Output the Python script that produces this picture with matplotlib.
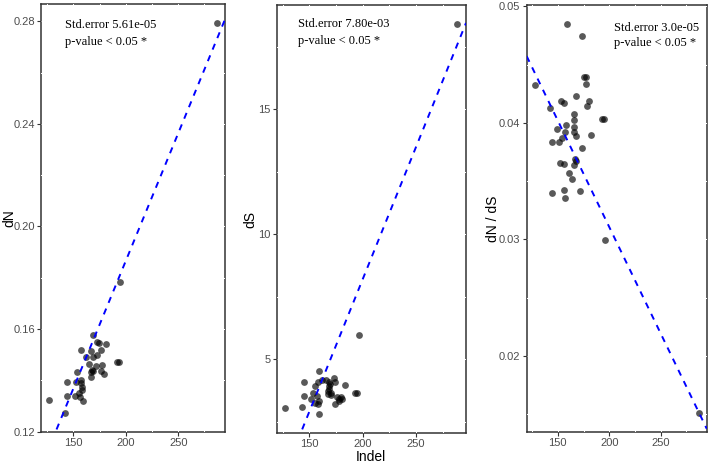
import matplotlib
matplotlib.use("Agg")
import matplotlib.pyplot as plt
import numpy as np
from matplotlib.ticker import MultipleLocator, FormatStrFormatter

plt.rcParams["font.family"] = ["Liberation Sans", "DejaVu Sans"]

# Dane: Indel vs dN, dS, dN/dS
indel_dn = [127.1, 142.4, 144.0, 144.0, 151.3, 153.8, 152.9, 155.1, 156.4, 157.0,
            157.6, 158.3, 158.3, 158.9, 157.6, 161.8, 164.6, 166.6, 168.8, 168.8,
            167.8, 167.2, 167.2, 169.1, 171.3, 172.6, 172.9, 174.8, 176.8, 177.7,
            176.8, 179.6, 181.5, 191.4, 193.6, 194.6, 286.6]
dn = [0.1321, 0.1274, 0.1392, 0.1340, 0.1340, 0.1431, 0.1392, 0.1349, 0.1334, 0.1401,
      0.1388, 0.1373, 0.1362, 0.1318, 0.1517, 0.1490, 0.1464, 0.1514, 0.1578, 0.1492,
      0.1440, 0.1432, 0.1414, 0.1438, 0.1457, 0.1499, 0.1549, 0.1544, 0.1519, 0.1458,
      0.1438, 0.1426, 0.1542, 0.1470, 0.1473, 0.1784, 0.2792]

indel_ds = [127.6, 142.9, 144.7, 144.7, 151.9, 153.7, 155.0, 155.3, 157.5, 158.1,
            159.0, 159.0, 159.6, 158.4, 162.4, 165.8, 167.4, 168.0, 168.6, 169.6,
            169.0, 170.2, 170.2, 169.0, 173.0, 174.5, 174.2, 176.4, 178.3, 179.5,
            181.1, 178.3, 183.2, 193.2, 195.0, 196.6, 288.9]
ds = [3.07, 3.09, 4.09, 3.52, 3.40, 3.64, 3.92, 3.25, 3.53, 4.11,
      4.52, 2.83, 3.33, 3.23, 4.17, 4.17, 3.60, 3.73, 3.93, 4.00,
      3.80, 3.67, 3.57, 4.09, 4.27, 4.11, 3.20, 3.51, 3.43, 3.49,
      3.40, 3.33, 3.97, 3.67, 3.67, 5.97, 18.40]

indel_ratio = [158.7, 173.9, 127.7, 175.5, 177.7, 177.7, 167.7, 152.9, 155.8, 180.6,
               178.7, 142.3, 165.7, 165.7, 157.7, 149.3, 165.7, 165.4, 156.5, 167.4,
               153.9, 151.6, 144.5, 182.6, 193.2, 195.2, 173.9, 166.5, 167.4, 166.1,
               152.5, 155.8, 160.6, 163.5, 144.5, 155.8, 156.7, 171.1, 195.8, 286.8]
ratio = [0.04845, 0.04744, 0.04322, 0.04397, 0.04391, 0.04333, 0.04230, 0.04187, 0.04167, 0.04190,
         0.04147, 0.04129, 0.04072, 0.04023, 0.03983, 0.03948, 0.03968, 0.03922, 0.03922, 0.03885,
         0.03874, 0.03839, 0.03836, 0.03897, 0.04029, 0.04034, 0.03787, 0.03687, 0.03670, 0.03641,
         0.03655, 0.03649, 0.03572, 0.03517, 0.03402, 0.03420, 0.03356, 0.03411, 0.02997, 0.01513]

# Linie regresji (nachylenie, wyraz wolny) i opisy
fits = [(0.000996, -0.0126), (0.1059, -12.99), (-0.0001827, 0.0676)]
std_errors = ["Std.error 5.61e-05", "Std.error 7.80e-03", "Std.error 3.0e-05"]
y_labels = ["dN", "dS", "dN / dS"]
y_ticks = [[0.12, 0.16, 0.20, 0.24, 0.28], [5, 10, 15], [0.02, 0.03, 0.04, 0.05]]
y_minor = [0.02, 2.5, 0.005]
y_fmt = ["%.2f", "%d", "%.2f"]

W, H = 708, 463
fig = plt.figure(figsize=(W / 100, H / 100), dpi=100)

# pozycje paneli w pikselach: lewo, prawo, góra, dół
boxes = [(41, 225, 4, 432), (276.7, 466, 5, 433), (526.7, 706.7, 5, 432)]
text_pos = [(0.130, 0.951, 0.911), (0.114, 0.955, 0.917), (0.485, 0.946, 0.912)]
ylabel_x = [-0.133, -0.102, -0.151]

data = [(indel_dn, dn), (indel_ds, ds), (indel_ratio, ratio)]

for i, (x, y) in enumerate(data):
    l, r, t, b = boxes[i]
    ax = fig.add_axes([l / W, (H - b) / H, (r - l) / W, (b - t) / H])
    ax.scatter(x, y, s=24, color="black", alpha=0.65, linewidths=0, zorder=3)
    ax.margins(0.05)
    ax.autoscale_view()
    xlim = ax.get_xlim()
    ylim = ax.get_ylim()
    xs = np.array(xlim)
    k, c = fits[i]
    ax.plot(xs, k * xs + c, color="blue", lw=1.4, ls=(0, (3.2, 3.2)), zorder=4)
    ax.set_xlim(xlim)
    ax.set_ylim(ylim)

    ax.set_xticks([150, 200, 250])
    ax.xaxis.set_minor_locator(MultipleLocator(25))
    ax.set_yticks(y_ticks[i])
    ax.yaxis.set_minor_locator(MultipleLocator(y_minor[i]))
    ax.yaxis.set_major_formatter(FormatStrFormatter(y_fmt[i]))
    ax.tick_params(which="major", length=3, width=0.8, color="#333333",
                   labelsize=8, labelcolor="#4d4d4d", pad=1.5)
    ax.tick_params(which="minor", length=0)
    ax.grid(True, which="both", color="white", lw=0.7)
    ax.set_axisbelow(False)
    for s in ax.spines.values():
        s.set_color("#333333")
        s.set_linewidth(1.1)
        s.set_zorder(2)

    ax.set_ylabel(y_labels[i], fontsize=10)
    ax.yaxis.set_label_coords(ylabel_x[i], 0.5)
    if i == 1:
        ax.set_xlabel("Indel", fontsize=10)
        ax.xaxis.set_label_coords(0.5, -0.04)

    tx, ty1, ty2 = text_pos[i]
    ax.text(tx, ty1, std_errors[i], transform=ax.transAxes, fontsize=9,
            family="Liberation Serif", va="center", zorder=5)
    ax.text(tx, ty2, "p-value < 0.05 *", transform=ax.transAxes, fontsize=9,
            family="Liberation Serif", va="center", zorder=5)

plt.savefig("out.png", dpi=100)
